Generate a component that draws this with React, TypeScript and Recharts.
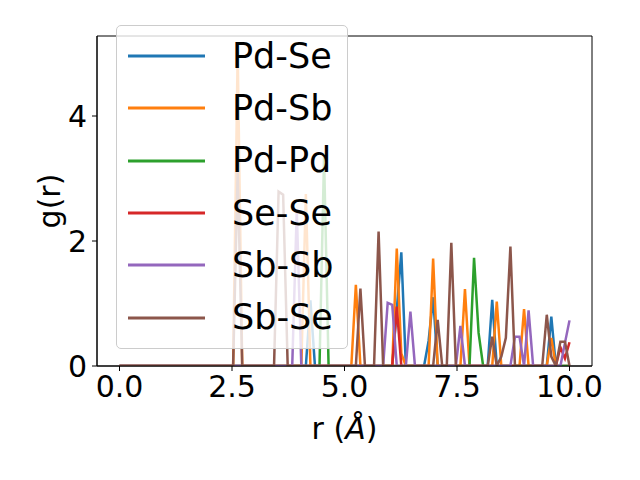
import { LineChart, Line, XAxis, YAxis, Legend, ReferenceArea } from "recharts";

// r grid: 100 evenly spaced samples from 0 to 10
const rValues: number[] = Array.from({ length: 100 }, (_, i) => (i * 10) / 99);

const xTicks = [0, 2.5, 5, 7.5, 10];
const yTicks = [0, 2, 4];

const pdSe = [
  0, 0, 0, 0, 0, 0, 0, 0, 0, 0,
  0, 0, 0, 0, 0, 0, 0, 0, 0, 0,
  0, 0, 0, 0, 0, 0, 0, 0, 0, 0,
  0, 0, 0, 0, 0, 0, 0, 0, 0, 0,
  0, 0, 1.05, 0, 0, 0, 0, 0, 0, 0,
  0, 0, 0, 0, 0, 0, 0, 0, 0, 0,
  0, 0.9, 1.82, 0, 0, 0, 0, 0, 0.4, 1.1,
  0, 0, 0, 0, 0, 0, 0, 0, 0, 0,
  0, 0, 1.06, 0, 0, 0, 0, 0, 0, 0,
  0, 0, 0, 0, 0, 0.79, 0, 0, 0, 0,
];

const pdSb = [
  0, 0, 0, 0, 0, 0, 0, 0, 0, 0,
  0, 0, 0, 0, 0, 0, 0, 0, 0, 0,
  0, 0, 0, 0, 0, 0, 5.03, 0, 0, 0,
  0, 0, 0, 0, 0, 0, 0, 0, 0, 0,
  0, 2.75, 0, 0, 0, 0, 0, 0, 0, 0,
  0, 0, 1.3, 0, 0, 0, 0, 0, 0, 0,
  0, 1.88, 0.2, 0, 0, 0, 0, 0, 0, 1.72,
  0, 0, 0, 0, 0, 0, 1.23, 0, 0, 0,
  0, 0, 0, 1.03, 0, 0, 0, 0, 0, 0.91,
  0, 0, 0, 0, 0, 0.45, 0, 0, 0, 0,
];

const pdPd = [
  0, 0, 0, 0, 0, 0, 0, 0, 0, 0,
  0, 0, 0, 0, 0, 0, 0, 0, 0, 0,
  0, 0, 0, 0, 0, 0, 0, 0, 0, 0,
  0, 0, 0, 0, 0, 0, 0, 0, 0, 0,
  0, 0, 0, 0, 0, 3.35, 0, 0, 0, 0,
  0, 0, 0, 0, 0, 0, 0, 0, 0, 0,
  0, 0, 0, 0, 0, 0, 0, 0, 0, 0,
  0, 0, 0, 0, 0, 0, 0, 0, 1.73, 0.53,
  0, 0, 0, 0, 0, 0, 0, 0, 0, 0,
  0, 0, 0, 0, 0, 0, 0, 0, 0, 0,
];

const seSe = [
  0, 0, 0, 0, 0, 0, 0, 0, 0, 0,
  0, 0, 0, 0, 0, 0, 0, 0, 0, 0,
  0, 0, 0, 0, 0, 0, 0, 0, 0, 0,
  0, 0, 0, 0, 0, 0, 0, 0, 0, 0,
  0, 0, 0, 0, 0, 0, 0, 0, 0, 0,
  0, 0, 0, 0, 0, 0, 0, 0, 0, 0,
  0, 0.95, 0, 0, 0, 0, 0, 0, 0, 0,
  0, 0, 0, 0, 0, 0, 0, 0, 0, 0,
  0, 0, 0, 0, 0, 0, 0, 0, 0, 0,
  0, 0, 0, 0, 0, 0, 0, 0.3, 0.12, 0.38,
];

const sbSb = [
  0, 0, 0, 0, 0, 0, 0, 0, 0, 0,
  0, 0, 0, 0, 0, 0, 0, 0, 0, 0,
  0, 0, 0, 0, 0, 0, 0, 0, 0, 0,
  0, 0, 0, 0, 0, 0, 0, 0, 0, 2.5,
  0, 0, 0, 0, 0, 0, 0, 0, 0, 0,
  0, 0, 0, 0, 0, 0, 0, 0, 0, 1.01,
  0.98, 0, 0, 0, 0.87, 0, 0, 0, 0, 0,
  0, 0, 0, 0, 0, 0.64, 0, 0, 0, 0,
  0, 0, 0, 0, 0, 0, 0, 0.47, 0.47, 0,
  0.89, 0, 0, 0, 0, 0, 0, 0, 0.37, 0.73,
];

const sbSe = [
  0, 0, 0, 0, 0, 0, 0, 0, 0, 0,
  0, 0, 0, 0, 0, 0, 0, 0, 0, 0,
  0, 0, 0, 0, 0, 0, 3.1, 0, 0, 0,
  0, 0, 0, 0, 0, 2.79, 2.74, 0, 0, 0,
  0, 0, 0, 0, 0, 0, 0, 0, 0, 0,
  0, 0, 0, 1.24, 0, 0, 0, 2.15, 0, 0,
  0, 0, 0, 0, 0, 0, 0, 0, 0, 0,
  0.74, 0, 0, 1.97, 0, 0, 0, 0, 0, 0,
  0, 0, 0.47, 0, 0.15, 0.45, 1.91, 0, 0, 0,
  0, 0, 0, 0, 0.82, 0.15, 0, 0.39, 0.39, 0,
];

const series = [
  { key: "pdSe", name: "Pd-Se", color: "#1f77b4", values: pdSe },
  { key: "pdSb", name: "Pd-Sb", color: "#ff7f0e", values: pdSb },
  { key: "pdPd", name: "Pd-Pd", color: "#2ca02c", values: pdPd },
  { key: "seSe", name: "Se-Se", color: "#d62728", values: seSe },
  { key: "sbSb", name: "Sb-Sb", color: "#9467bd", values: sbSb },
  { key: "sbSe", name: "Sb-Se", color: "#8c564b", values: sbSe },
];

const data = rValues.map((r, i) => {
  const row: Record<string, number> = { r };
  series.forEach((s) => {
    row[s.key] = s.values[i];
  });
  return row;
});

const FONT = "DejaVu Sans";

function XLabel(props: any) {
  const { viewBox } = props;
  const cx = viewBox.x + viewBox.width / 2;
  return (
    <text x={cx} y={viewBox.y + 73} textAnchor="middle" fontFamily={FONT} fontSize={30} fill="#000">
      r (<tspan fontStyle="italic">Å</tspan>)
    </text>
  );
}

function YLabel(props: any) {
  const { viewBox } = props;
  const cy = viewBox.y + viewBox.height / 2;
  const cx = 60;
  return (
    <text
      x={cx}
      y={cy}
      textAnchor="middle"
      fontFamily={FONT}
      fontSize={30}
      fill="#000"
      transform={`rotate(-90, ${cx}, ${cy})`}
    >
      g(r)
    </text>
  );
}

// legend keeps the plotting order of the series
function renderLegend() {
  return (
    <div
      style={{
        boxSizing: "border-box",
        width: 232,
        height: 324,
        background: "rgba(255,255,255,0.8)",
        border: "1px solid #cccccc",
        borderRadius: 5,
        paddingTop: 4,
        fontFamily: FONT,
        fontSize: 35,
        color: "#000",
      }}
    >
      {series.map((s) => (
        <div key={s.key} style={{ display: "flex", alignItems: "center", height: 52.3 }}>
          <svg width={77} height={6} style={{ marginLeft: 11, marginRight: 27 }}>
            <line x1={0} y1={3} x2={77} y2={3} stroke={s.color} strokeWidth={2.8} />
          </svg>
          <span style={{ lineHeight: 1 }}>{s.name}</span>
        </div>
      ))}
    </div>
  );
}

export default function App() {
  return (
    <div style={{ position: "absolute", left: 0, top: 0, width: 640, height: 480, background: "#fff" }}>
      <LineChart width={640} height={480} data={data} margin={{ top: 36, right: 48, left: 0, bottom: 0 }}>
        <XAxis
          dataKey="r"
          type="number"
          domain={[-0.5, 10.5]}
          ticks={xTicks}
          tickFormatter={(v: number) => v.toFixed(1)}
          allowDataOverflow
          height={114}
          tickSize={5}
          tickMargin={5}
          axisLine={{ stroke: "#000" }}
          tickLine={{ stroke: "#000" }}
          tick={{ fill: "#000", fontSize: 30, fontFamily: FONT }}
          label={{ content: <XLabel /> }}
        />
        <YAxis
          type="number"
          domain={[0, 5.28]}
          ticks={yTicks}
          allowDataOverflow
          width={97}
          tickSize={5}
          tickMargin={5}
          axisLine={{ stroke: "#000" }}
          tickLine={{ stroke: "#000" }}
          tick={{ fill: "#000", fontSize: 30, fontFamily: FONT }}
          label={{ content: <YLabel /> }}
        />
        <ReferenceArea x1={-0.5} x2={10.5} y1={0} y2={5.28} fill="none" stroke="#000" strokeWidth={1} />
        {series.map((s) => (
          <Line
            key={s.key}
            type="linear"
            dataKey={s.key}
            name={s.name}
            stroke={s.color}
            strokeWidth={2.5}
            dot={false}
            activeDot={false}
            isAnimationActive={false}
          />
        ))}
        <Legend
          layout="vertical"
          align="center"
          verticalAlign="middle"
          content={renderLegend}
          wrapperStyle={{ left: 116, top: 25, width: 232, height: 324 }}
        />
      </LineChart>
    </div>
  );
}
